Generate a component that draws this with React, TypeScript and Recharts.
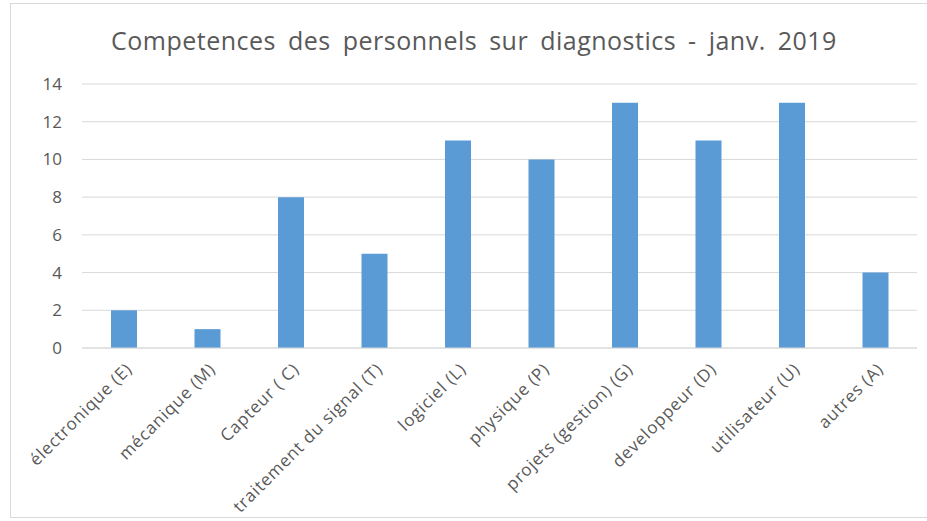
import React from "react";
import { BarChart, Bar, XAxis, YAxis, CartesianGrid } from "recharts";

const categories = [
  "électronique (E)",
  "mécanique (M)",
  "Capteur ( C)",
  "traitement du signal (T)",
  "logiciel (L)",
  "physique (P)",
  "projets (gestion) (G)",
  "developpeur (D)",
  "utilisateur (U)",
  "autres (A)",
];
const values = [2, 1, 8, 5, 11, 10, 13, 11, 13, 4];
const yTicks = [0, 2, 4, 6, 8, 10, 12, 14];
const title = "Competences des personnels sur diagnostics - janv. 2019";

const data = categories.map((name, i) => ({ name, value: values[i] }));

const FONT = "'Open Sans', 'Noto Sans', sans-serif";

const XTick = (props: any) => {
  const { x, y, payload } = props;
  return (
    <g transform={`translate(${x + 5},${y + 10})`}>
      <text
        x={0}
        y={0}
        dy={6}
        textAnchor="end"
        transform="rotate(-45)"
        fill="#595959"
        fontSize={17}
        letterSpacing={0.8}
        fontFamily={FONT}
      >
        {payload.value}
      </text>
    </g>
  );
};

export default function App() {
  return (
    <div
      style={{
        position: "fixed",
        left: 0,
        top: 0,
        width: 927,
        height: 521,
        background: "#fff",
        overflow: "hidden",
      }}
    >
      <div
        style={{
          position: "absolute",
          left: 10,
          top: 3,
          width: 930,
          height: 515,
          border: "1px solid #d9d9d9",
          boxSizing: "border-box",
        }}
      />
      <div
        style={{
          position: "absolute",
          left: 0,
          top: 22,
          width: 948,
          textAlign: "center",
          fontFamily: FONT,
          fontSize: 25,
          letterSpacing: 0.5,
          wordSpacing: 5,
          color: "#595959",
          whiteSpace: "nowrap",
          lineHeight: "36px",
        }}
      >
        {title}
      </div>
      <div style={{ position: "absolute", left: 0, top: 0 }}>
        <BarChart
          width={927}
          height={521}
          data={data}
          margin={{ top: 84, right: 10, left: 0, bottom: 0 }}
        >
          <CartesianGrid vertical={false} stroke="#d9d9d9" strokeWidth={1} />
          <XAxis
            dataKey="name"
            interval={0}
            height={173}
            tick={<XTick />}
            tickLine={false}
            axisLine={{ stroke: "#d9d9d9" }}
          />
          <YAxis
            width={82}
            domain={[0, 14]}
            ticks={yTicks}
            tickLine={false}
            axisLine={false}
            tickMargin={20}
            tickSize={0}
            tick={{ fill: "#595959", fontSize: 17, fontFamily: FONT }}
          />
          <Bar dataKey="value" fill="#5b9bd5" barSize={26} isAnimationActive={false} />
        </BarChart>
      </div>
    </div>
  );
}
